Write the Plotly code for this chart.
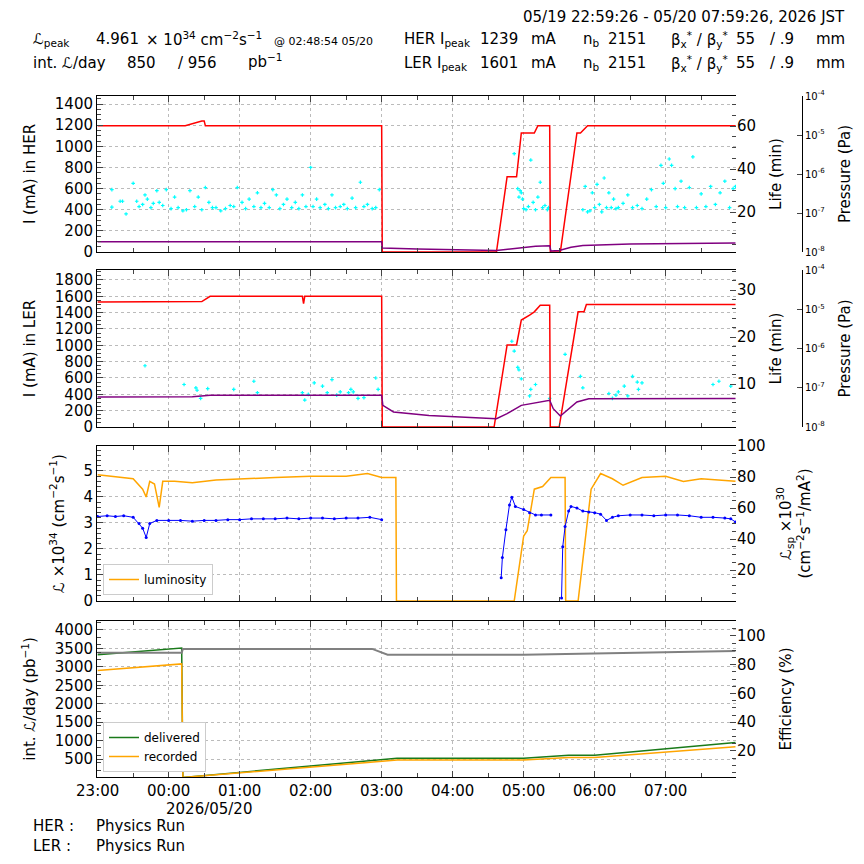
import plotly.graph_objects as go

# ---- data ----
her_cur_t = ["23:00", "00:14", "00:28", "00:30", "00:31", "03:00", "03:00:30", "04:37", "04:46", "04:54",
             "04:58", "05:09", "05:12", "05:22", "05:22:30", "05:31", "05:45", "05:48", "05:54", "07:59"]
her_cur_v = [1195, 1195, 1240, 1240, 1195, 1195, 0, 0, 712, 712,
             1126, 1126, 1195, 1195, 0, 0, 1126, 1126, 1195, 1195]

her_pur_t = ["23:00", "00:20", "00:35", "03:00", "03:00:30", "03:30", "04:37", "04:55", "05:10", "05:22",
             "05:23", "05:30", "05:40", "05:50", "06:30", "07:59"]
her_pur_v = [97, 97, 100, 97, 38, 28, 15, 40, 55, 60, 10, 15, 45, 62, 75, 85]

her_cy = [("23:12", 590), ("23:12", 425), ("23:19", 480), ("23:21", 480), ("23:24", 360), ("23:30", 650),
          ("23:33", 480), ("23:35", 430), ("23:38", 450), ("23:40", 540), ("23:42", 500), ("23:45", 420),
          ("23:47", 460), ("23:50", 580), ("23:52", 470), ("23:55", 440), ("23:58", 590), ("00:02", 410),
          ("00:05", 520), ("00:08", 420), ("00:12", 390), ("00:15", 400), ("00:18", 580), ("00:22", 430),
          ("00:25", 520), ("00:28", 400), ("00:31", 610), ("00:34", 470), ("00:37", 420), ("00:40", 420),
          ("00:44", 390), ("00:48", 410), ("00:52", 440), ("00:55", 430), ("00:58", 610), ("01:02", 470),
          ("01:05", 410), ("01:08", 500), ("01:12", 430), ("01:15", 560), ("01:18", 420), ("01:21", 460),
          ("01:25", 420), ("01:28", 590), ("01:31", 540), ("01:34", 410), ("01:37", 450), ("01:40", 500),
          ("01:44", 420), ("01:47", 470), ("01:50", 410), ("01:53", 540), ("01:56", 430), ("02:00", 800),
          ("02:02", 430), ("02:05", 500), ("02:08", 420), ("02:12", 450), ("02:15", 410), ("02:18", 540),
          ("02:21", 420), ("02:25", 430), ("02:28", 450), ("02:31", 410), ("02:35", 510), ("02:38", 420),
          ("02:42", 660), ("02:45", 430), ("02:48", 450), ("02:52", 410), ("02:55", 420), ("02:58", 590),
          ("04:52", 930), ("04:55", 600), ("04:56", 520), ("04:57", 580), ("04:58", 560), ("04:59", 500),
          ("05:00", 410), ("05:02", 400), ("05:04", 430), ("05:06", 870), ("05:08", 470), ("05:10", 400),
          ("05:12", 520), ("05:14", 660), ("05:16", 420), ("05:18", 440), ("05:20", 400), ("05:21", 420),
          ("05:50", 400), ("05:52", 620), ("05:54", 380), ("05:56", 390), ("05:58", 560), ("06:00", 420),
          ("06:02", 640), ("06:04", 450), ("06:06", 380), ("06:08", 700), ("06:10", 420), ("06:12", 560),
          ("06:14", 420), ("06:16", 500), ("06:18", 410), ("06:20", 420), ("06:24", 460), ("06:28", 540),
          ("06:32", 420), ("06:36", 440), ("06:40", 410), ("06:44", 500), ("06:48", 590), ("06:52", 430),
          ("06:56", 820), ("06:58", 650), ("07:00", 420), ("07:03", 880), ("07:05", 820), ("07:08", 600),
          ("07:10", 430), ("07:13", 670), ("07:16", 420), ("07:20", 610), ("07:23", 900), ("07:26", 420),
          ("07:30", 550), ("07:34", 430), ("07:38", 620), ("07:42", 450), ("07:46", 560), ("07:50", 670),
          ("07:54", 420), ("07:57", 600), ("07:59", 620)]

ler_cur_t = ["23:00", "00:28", "00:35", "01:53", "01:54", "01:55", "03:00", "03:00:30", "04:35", "04:46",
             "04:54", "04:58", "05:05", "05:09", "05:14", "05:22", "05:22:30", "05:30", "05:46", "05:51",
             "05:53", "07:59"]
ler_cur_v = [1530, 1535, 1600, 1600, 1510, 1600, 1600, 0, 0, 1004,
             1004, 1310, 1370, 1410, 1490, 1490, 0, 0, 1410, 1410,
             1500, 1500]

ler_pur_t = ["23:00", "00:20", "00:35", "03:00", "03:01", "03:10", "03:40", "04:37", "04:46", "04:58", "05:22",
             "05:25", "05:31", "05:45", "05:55", "07:59"]
ler_pur_v = [367, 370, 388, 388, 265, 184, 140, 102, 163, 265, 327, 224, 135, 306, 347, 350]

ler_cy = [("23:40", 750), ("00:13", 520), ("00:23", 480), ("00:24", 450), ("00:27", 350), ("00:33", 470),
          ("00:55", 460), ("01:12", 560), ("01:15", 420), ("01:53", 420), ("01:55", 330), ("01:58", 400),
          ("02:03", 540), ("02:10", 500), ("02:14", 420), ("02:18", 580), ("02:22", 390), ("02:25", 430),
          ("02:32", 420), ("02:34", 460), ("02:36", 430), ("02:40", 350), ("02:45", 360), ("02:55", 600),
          ("02:57", 460), ("04:50", 1050), ("04:52", 930), ("04:55", 730), ("04:56", 700), ("04:58", 590),
          ("05:05", 380), ("05:06", 460), ("05:10", 520), ("05:22", 350), ("05:35", 890), ("05:48", 620),
          ("05:50", 480), ("06:12", 410), ("06:15", 350), ("06:18", 390), ("06:20", 430), ("06:25", 500),
          ("06:28", 380), ("06:32", 620), ("06:36", 550), ("06:37", 460), ("06:40", 540), ("07:40", 520),
          ("07:45", 560), ("07:55", 500)]

lum_t = ["23:00", "23:10", "23:20", "23:30", "23:38", "23:41", "23:44", "23:48", "23:52", "23:55",
         "00:05", "00:20", "00:40", "01:00", "01:30", "02:00", "02:30", "02:48", "03:00", "03:12",
         "03:12:30", "04:52", "05:00", "05:03", "05:09", "05:16", "05:23", "05:35", "05:35:30", "05:46",
         "05:57", "06:05", "06:15", "06:24", "06:40", "07:00", "07:15", "07:30", "07:59"]
lum_v = [4.85, 4.8, 4.75, 4.7, 4.3, 4.0, 4.6, 4.5, 3.6, 4.6,
         4.6, 4.55, 4.65, 4.7, 4.75, 4.8, 4.8, 4.9, 4.75, 4.75,
         0, 0, 2.5, 2.7, 4.3, 4.4, 4.75, 4.75, 0, 0,
         4.3, 4.9, 4.7, 4.45, 4.75, 4.8, 4.6, 4.7, 4.6]

lsp_t = ["23:00", "23:08", "23:15", "23:22", "23:30", "23:35", "23:38", "23:41", "23:44", "23:50",
         "00:00", "00:10", "00:20", "00:30", "00:40", "00:50", "01:00", "01:10", "01:20", "01:30",
         "01:40", "01:50", "02:00", "02:10", "02:20", "02:30", "02:40", "02:50", "03:00", "03:00:30",
         "04:41", "04:42", "04:45", "04:48", "04:50", "04:53", "05:00", "05:05", "05:10", "05:15",
         "05:23", "05:23:30", "05:32", "05:33", "05:35", "05:38", "05:40", "05:45", "05:50", "05:55",
         "06:00", "06:05", "06:10", "06:15", "06:20", "06:30", "06:40", "06:50", "07:00", "07:10",
         "07:20", "07:30", "07:40", "07:50", "07:55", "07:59"]
lsp_v = [54.5, 55, 54.5, 55, 54, 50, 47, 41, 50, 52,
         52, 52, 51.5, 52, 52, 52.5, 52.5, 53, 53, 53,
         53.5, 53, 53.5, 53.5, 53, 53.5, 53.5, 54, 52.5, None,
         15, 28, 46, 62, 67, 61, 59, 57, 55.5, 55.5,
         55.5, None, 2, 35, 48, 58, 61, 60, 58, 57.5,
         57, 56, 52, 54, 55, 55.5, 55.5, 55, 55.5, 55.5,
         55, 54, 54, 53.5, 53, 51]

deliv_t = ["23:00", "00:11", "00:12", "03:13", "05:00", "05:38", "06:00", "07:59"]
deliv_v = [3330, 3510, 0, 520, 520, 600, 600, 950]
recor_t = ["23:00", "00:11", "00:12", "03:13", "05:00", "05:38", "06:00", "07:59"]
recor_v = [2900, 3080, 0, 470, 470, 540, 540, 830]
eff_t = ["23:00", "00:11", "00:12", "02:52", "03:05", "05:00", "07:59"]
eff_v = [88.4, 88.4, 91.0, 91.0, 87.0, 87.0, 89.5]

pres_ticks = [1e-8, 1e-7, 1e-6, 1e-5, 1e-4]
pres_text = ["10<sup>-8</sup>", "10<sup>-7</sup>", "10<sup>-6</sup>", "10<sup>-5</sup>", "10<sup>-4</sup>"]
hour_ticks = ["23:00", "00:00", "01:00", "02:00", "03:00", "04:00", "05:00", "06:00", "07:00"]


def t(s):
    day = 20 if int(s[:2]) < 12 else 19
    if len(s) == 5:
        s = s + ":00"
    return "2026-05-%02d %s" % (day, s)


def ts(lst):
    return [t(s) for s in lst]


FONT = "DejaVu Sans"
OX, OY = 6, 8  # page offset of the figure in the screenshot
L, T = 95 - OX, 96 - OY
R, B = 864 - (814 - OX), 864 - (777 - OY)
PW, PH = 864 - L - R, 864 - T - B


def px(x):
    return (x - OX - L) / PW


def py(y):
    return (864 - B - (y - OY)) / PH


XD = [0, px(734)]
fig = go.Figure()

# panel 1: HER
fig.add_trace(go.Scatter(x=[t(a) for a, b in her_cy], y=[b for a, b in her_cy], mode="markers",
                         marker=dict(color="cyan", size=3, symbol="cross"), showlegend=False, yaxis="y", xaxis="x"))
fig.add_trace(go.Scatter(x=ts(her_cur_t), y=her_cur_v, mode="lines", line=dict(color="red", width=1.5),
                         showlegend=False, xaxis="x", yaxis="y"))
fig.add_trace(go.Scatter(x=ts(her_pur_t), y=her_pur_v, mode="lines", line=dict(color="purple", width=1.5),
                         showlegend=False, xaxis="x", yaxis="y"))
fig.add_trace(go.Scatter(x=[t("23:00")], y=[None], showlegend=False, xaxis="x", yaxis="y2"))
fig.add_trace(go.Scatter(x=[t("23:00")], y=[1e-10], mode="lines", showlegend=False, xaxis="x", yaxis="y3"))

# panel 2: LER
fig.add_trace(go.Scatter(x=[t(a) for a, b in ler_cy], y=[b for a, b in ler_cy], mode="markers",
                         marker=dict(color="cyan", size=3, symbol="cross"), showlegend=False, xaxis="x2", yaxis="y4"))
fig.add_trace(go.Scatter(x=ts(ler_cur_t), y=ler_cur_v, mode="lines", line=dict(color="red", width=1.5),
                         showlegend=False, xaxis="x2", yaxis="y4"))
fig.add_trace(go.Scatter(x=ts(ler_pur_t), y=ler_pur_v, mode="lines", line=dict(color="purple", width=1.5),
                         showlegend=False, xaxis="x2", yaxis="y4"))
fig.add_trace(go.Scatter(x=[t("23:00")], y=[None], showlegend=False, xaxis="x2", yaxis="y5"))
fig.add_trace(go.Scatter(x=[t("23:00")], y=[1e-10], mode="lines", showlegend=False, xaxis="x2", yaxis="y6"))

# panel 3: luminosity
fig.add_trace(go.Scatter(x=ts(lsp_t), y=lsp_v, mode="lines+markers", line=dict(color="blue", width=1),
                         marker=dict(color="blue", size=3), showlegend=False, xaxis="x3", yaxis="y8"))
fig.add_trace(go.Scatter(x=ts(lum_t), y=lum_v, mode="lines", line=dict(color="orange", width=1.5),
                         name="luminosity", xaxis="x3", yaxis="y7", legend="legend"))

# panel 4: integrated
fig.add_trace(go.Scatter(x=ts(eff_t), y=eff_v, mode="lines", line=dict(color="gray", width=2),
                         showlegend=False, xaxis="x4", yaxis="y10"))
fig.add_trace(go.Scatter(x=ts(deliv_t), y=deliv_v, mode="lines", line=dict(color="#1a7a1a", width=1.5),
                         name="delivered", xaxis="x4", yaxis="y9", legend="legend2"))
fig.add_trace(go.Scatter(x=ts(recor_t), y=recor_v, mode="lines", line=dict(color="orange", width=1.5),
                         name="recorded", xaxis="x4", yaxis="y9", legend="legend2"))

tickf = dict(family=FONT, size=15, color="black")
GRID = "#bbbbbb"
common_x = dict(domain=XD, type="date", range=[t("22:59:26"), t("07:59:26")], tickvals=ts(hour_ticks),
                tickformat="%H:%M", ticks="inside", ticklen=6, showline=True, linecolor="black", mirror="ticks",
                showgrid=True, gridcolor=GRID, griddash="dot", tickfont=tickf, automargin=False,
                minor=dict(ticks="inside", ticklen=4, dtick=1800000, showgrid=False))
ax_y = dict(ticks="inside", ticklen=6, showline=True, linecolor="black", linewidth=1, showgrid=True,
            gridcolor=GRID, griddash="dot", tickfont=tickf, zeroline=False, automargin=False,
            title_font=dict(family=FONT, size=15), minor=dict(ticks="inside", ticklen=4))
ax_r = dict(ticks="inside", ticklen=6, showline=False, showgrid=False, tickfont=tickf, zeroline=False,
            automargin=False, title_font=dict(family=FONT, size=15), side="right",
            minor=dict(ticks="inside", ticklen=4))
ax_p = dict(type="log", range=[-8, -4], tickvals=pres_ticks, ticktext=pres_text, side="right", anchor="free",
            position=px(800), ticks="inside", ticklen=5, showline=True, linecolor="black", showgrid=False,
            automargin=False, tickfont=dict(family=FONT, size=10),
            title=dict(text="Pressure (Pa)", font=dict(family=FONT, size=15)))

d1, d2, d3, d4 = [py(252), py(96)], [py(427), py(270)], [py(601), py(446)], [0, py(621)]
fig.update_layout(
    xaxis=dict(common_x, anchor="y", showticklabels=False),
    xaxis2=dict(common_x, anchor="y4", matches="x", showticklabels=False),
    xaxis3=dict(common_x, anchor="y7", matches="x", showticklabels=False),
    xaxis4=dict(common_x, anchor="y9", matches="x", showticklabels=True),
    yaxis=dict(ax_y, domain=d1, anchor="x", range=[0, 1476], dtick=200, title_text="I (mA) in HER"),
    yaxis2=dict(ax_r, overlaying="y", anchor="x", range=[1.4, 74], tickvals=[20, 40, 60], title_text="Life (min)"),
    yaxis3=dict(ax_p, overlaying="y"),
    yaxis4=dict(ax_y, domain=d2, anchor="x2", range=[0, 1922], dtick=200, title_text="I (mA) in LER"),
    yaxis5=dict(ax_r, overlaying="y4", anchor="x2", range=[0.85, 34.3], tickvals=[10, 20, 30], title_text="Life (min)"),
    yaxis6=dict(ax_p, overlaying="y4"),
    yaxis7=dict(ax_y, domain=d3, anchor="x3", range=[0, 5.96], dtick=1,
                title_text="ℒ ×10<sup>34</sup> (cm<sup>−2</sup>s<sup>−1</sup>)"),
    yaxis8=dict(ax_r, overlaying="y7", anchor="x3", range=[0, 100], tickvals=[20, 40, 60, 80, 100],
                title_text="ℒ<sub>sp</sub> ×10<sup>30</sup><br>(cm<sup>−2</sup>s<sup>−1</sup>/mA<sup>2</sup>)"),
    yaxis9=dict(ax_y, domain=d4, anchor="x4", range=[12, 4244], tickvals=[500, 1000, 1500, 2000, 2500, 3000, 3500, 4000],
                title_text="int. ℒ/day (pb<sup>−1</sup>)"),
    yaxis10=dict(ax_r, overlaying="y9", anchor="x4", range=[1.9, 110.4], tickvals=[20, 40, 60, 80, 100],
                 title_text="Efficiency (%)"),
    legend=dict(x=px(101), y=py(595), xanchor="left", yanchor="bottom", bgcolor="white", bordercolor="#ccc",
                borderwidth=1, font=dict(family=FONT, size=12)),
    legend2=dict(x=px(101), y=py(772), xanchor="left", yanchor="bottom", bgcolor="white", bordercolor="#ccc",
                 borderwidth=1, font=dict(family=FONT, size=12)),
    width=864, height=864, margin=dict(l=L, r=R, t=T, b=B),
    plot_bgcolor="white", paper_bgcolor="white", font=dict(family=FONT, color="black"),
)


def ann(x, y, text, size=15, xanchor="left"):
    fig.add_annotation(x=px(x - 3), y=py(y), xref="paper", yref="paper", text=text, showarrow=False,
                       xanchor=xanchor, yanchor="middle", font=dict(family=FONT, size=size, color="black"))


ann(848, 17, "05/19 22:59:26 - 05/20 07:59:26, 2026 JST", xanchor="right")
ann(32, 39, "ℒ<sub>peak</sub>")
ann(95, 39, "4.961")
ann(145, 39, "× 10<sup>34</sup> cm<sup>−2</sup>s<sup>−1</sup>")
ann(273, 41, "@ 02:48:54 05/20", size=11)
ann(32, 63, "int. ℒ/day")
ann(126, 63, "850")
ann(177, 63, "/ 956")
ann(247, 61, "pb<sup>−1</sup>")
for yy, ring, ip in [(39, "HER", "1239"), (63, "LER", "1601")]:
    ann(403, yy, ring + " I<sub>peak</sub>")
    ann(479, yy, ip)
    ann(530, yy, "mA")
    ann(582, yy, "n<sub>b</sub>")
    ann(607, yy, "2151")
    ann(670, yy, "β<sub>x</sub><sup>*</sup> / β<sub>y</sub><sup>*</sup>")
    ann(735, yy, "55")
    ann(769, yy, "/ .9")
    ann(815, yy, "mm")
ann(210, 809, "2026/05/20", xanchor="center")
ann(32, 826, "HER :")
ann(95, 826, "Physics Run")
ann(32, 846, "LER :")
ann(95, 846, "Physics Run")

fig.write_html("out.html")
